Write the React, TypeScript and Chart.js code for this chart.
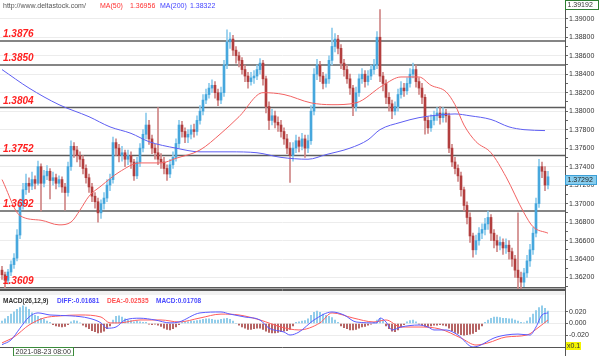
import React, { useEffect, useRef } from 'react';
import { Chart, registerables } from 'chart.js';

Chart.register(...registerables);

const FONT = '"Liberation Sans", Arial, sans-serif';

// ---------- data ----------
const firstOpen = 1.3628;
const closes = [
  1.3623, 1.3617, 1.3626, 1.3634, 1.3641, 1.3666, 1.3698, 1.3715, 1.3722, 1.3719, 1.3726, 1.3722,
  1.3740, 1.3722, 1.3730, 1.3735, 1.3725, 1.3728, 1.3722, 1.3726, 1.3718, 1.3712, 1.3740, 1.3762, 1.3758,
  1.3752, 1.3748, 1.3738, 1.3728, 1.3718, 1.3708, 1.3702, 1.3690, 1.3700, 1.3706, 1.3720, 1.3726,
  1.3766, 1.3760, 1.3752, 1.3755, 1.3748, 1.3752, 1.3745, 1.3730, 1.3745, 1.3760, 1.3775, 1.3785, 1.3770, 1.3760, 1.3755, 1.3748, 1.3745, 1.3738, 1.3732, 1.3742, 1.3750,
  1.3765, 1.3785, 1.3778, 1.3772, 1.3775, 1.3780, 1.3778, 1.3790, 1.3800, 1.3812,
  1.3818, 1.3825, 1.3828, 1.3820, 1.3812, 1.3820, 1.3850, 1.3875, 1.3878,
  1.3866, 1.3860, 1.3855, 1.3845, 1.3838, 1.3832, 1.3836, 1.3838, 1.3845, 1.3852, 1.3835,
  1.3805, 1.3790, 1.3795, 1.3788, 1.3785, 1.3778, 1.3770, 1.3760, 1.3752, 1.3760, 1.3768, 1.3762, 1.3770, 1.3760, 1.3768,
  1.3800, 1.3840, 1.3850, 1.3838, 1.3830, 1.3835, 1.3855, 1.3870, 1.3878,
  1.3868, 1.3852, 1.3845, 1.3835, 1.3825, 1.3805, 1.3820, 1.3835, 1.3840, 1.3832, 1.3838, 1.3845, 1.3850, 1.3880, 1.3838,
  1.3830, 1.3815, 1.3808, 1.3800, 1.3805, 1.3818, 1.3825, 1.3822, 1.3830, 1.3840, 1.3845, 1.3832, 1.3825, 1.3815, 1.3790, 1.3782, 1.3790, 1.3795, 1.3798, 1.3793, 1.3798, 1.3795,
  1.3760, 1.3745, 1.3738, 1.3730, 1.3715, 1.3698, 1.3685, 1.3665, 1.3650, 1.3660, 1.3668, 1.3672, 1.3678, 1.3685, 1.3668,
  1.3660, 1.3655, 1.3658, 1.3652, 1.3655, 1.3648, 1.3640, 1.3628, 1.3620, 1.3615,
  1.3625, 1.3638, 1.3650, 1.3668, 1.3700, 1.3740, 1.3735, 1.3720, 1.3729,
];
const highs = [
  1.3632, 1.3626, 1.3629, 1.3638, 1.3646, 1.3672, 1.3705, 1.3722, 1.3732, 1.3728, 1.3734, 1.3730,
  1.3746, 1.3743, 1.3736, 1.3741, 1.3738, 1.3734, 1.3732, 1.3730, 1.3729, 1.3722, 1.3745, 1.3768, 1.3766,
  1.3762, 1.3756, 1.3752, 1.3742, 1.3732, 1.3722, 1.3712, 1.3706, 1.3704, 1.3712, 1.3726, 1.3732,
  1.3772, 1.3770, 1.3764, 1.3762, 1.3758, 1.3758, 1.3756, 1.3748, 1.3750, 1.3765, 1.3780, 1.3798, 1.3790, 1.3774, 1.3764, 1.3804, 1.3754, 1.3750, 1.3742, 1.3748, 1.3756,
  1.3770, 1.3790, 1.3789, 1.3782, 1.3780, 1.3785, 1.3786, 1.3795, 1.3806, 1.3818,
  1.3824, 1.3830, 1.3834, 1.3832, 1.3824, 1.3826, 1.3855, 1.3888, 1.3885,
  1.3882, 1.3870, 1.3864, 1.3858, 1.3850, 1.3842, 1.3842, 1.3844, 1.3850, 1.3857, 1.3855,
  1.3838, 1.3810, 1.3802, 1.3800, 1.3794, 1.3790, 1.3782, 1.3775, 1.3766, 1.3766, 1.3774, 1.3772, 1.3776, 1.3774, 1.3774,
  1.3806, 1.3846, 1.3856, 1.3854, 1.3842, 1.3840, 1.3860, 1.3890, 1.3884,
  1.3882, 1.3872, 1.3856, 1.3850, 1.3840, 1.3828, 1.3826, 1.3840, 1.3846, 1.3844, 1.3844, 1.3850, 1.3856, 1.3886, 1.3910,
  1.3842, 1.3834, 1.3820, 1.3812, 1.3810, 1.3824, 1.3832, 1.3830, 1.3836, 1.3846, 1.3852, 1.3850, 1.3836, 1.3830, 1.3818, 1.3794, 1.3796, 1.3800, 1.3804, 1.3805, 1.3804, 1.3802,
  1.3798, 1.3764, 1.3750, 1.3742, 1.3734, 1.3718, 1.3702, 1.3690, 1.3668, 1.3666, 1.3674, 1.3678, 1.3684, 1.3692, 1.3688,
  1.3672, 1.3666, 1.3664, 1.3662, 1.3662, 1.3660, 1.3652, 1.3644, 1.3690, 1.3626,
  1.3630, 1.3644, 1.3656, 1.3674, 1.3706, 1.3748, 1.3745, 1.3740, 1.3735,
];
const lows = [
  1.3618, 1.3609, 1.3613, 1.3622, 1.3630, 1.3638, 1.3662, 1.3694, 1.3710, 1.3712, 1.3715, 1.3716,
  1.3720, 1.3692, 1.3718, 1.3726, 1.3705, 1.3720, 1.3716, 1.3718, 1.3712, 1.3693, 1.3708, 1.3736, 1.3750,
  1.3745, 1.3740, 1.3732, 1.3722, 1.3712, 1.3702, 1.3695, 1.3680, 1.3684, 1.3694, 1.3702, 1.3714,
  1.3722, 1.3752, 1.3745, 1.3746, 1.3740, 1.3742, 1.3738, 1.3725, 1.3727, 1.3740, 1.3756, 1.3770, 1.3764, 1.3754, 1.3748, 1.3742, 1.3738, 1.3732, 1.3725, 1.3728, 1.3738,
  1.3746, 1.3760, 1.3772, 1.3766, 1.3766, 1.3770, 1.3772, 1.3774, 1.3786, 1.3796,
  1.3808, 1.3814, 1.3820, 1.3814, 1.3806, 1.3808, 1.3816, 1.3846, 1.3868,
  1.3860, 1.3852, 1.3848, 1.3840, 1.3832, 1.3825, 1.3828, 1.3830, 1.3834, 1.3840, 1.3828,
  1.3798, 1.3780, 1.3785, 1.3782, 1.3778, 1.3772, 1.3764, 1.3754, 1.3723, 1.3746, 1.3755, 1.3756, 1.3758, 1.3750, 1.3755,
  1.3764, 1.3796, 1.3834, 1.3832, 1.3824, 1.3826, 1.3830, 1.3850, 1.3864,
  1.3862, 1.3846, 1.3838, 1.3830, 1.3818, 1.3795, 1.3800, 1.3816, 1.3830, 1.3826, 1.3828, 1.3834, 1.3840, 1.3846, 1.3832,
  1.3822, 1.3808, 1.3800, 1.3792, 1.3796, 1.3800, 1.3814, 1.3816, 1.3818, 1.3826, 1.3836, 1.3826, 1.3818, 1.3808, 1.3775, 1.3776, 1.3778, 1.3785, 1.3790, 1.3786, 1.3788, 1.3788,
  1.3755, 1.3740, 1.3732, 1.3724, 1.3708, 1.3692, 1.3678, 1.3658, 1.3642, 1.3645, 1.3655, 1.3662, 1.3666, 1.3672, 1.3660,
  1.3652, 1.3648, 1.3650, 1.3645, 1.3646, 1.3640, 1.3632, 1.3620, 1.3608, 1.3606,
  1.3610, 1.3620, 1.3632, 1.3645, 1.3664, 1.3696, 1.3728, 1.3714, 1.3716,
];
// [candle index, value]
const ma50 = [
  [0, 1.3726], [6, 1.3687], [13, 1.3682], [19, 1.3677], [23, 1.3680], [26, 1.3693], [29, 1.3708], [33, 1.3719],
  [39, 1.3734], [46, 1.3744], [53, 1.3744], [58, 1.3749], [66, 1.3758], [73, 1.3776], [79, 1.3794], [87, 1.3820],
  [94, 1.3818], [103, 1.3809], [110, 1.3807], [118, 1.3809], [127, 1.3828], [133, 1.3837], [139, 1.3837],
  [143, 1.3828], [148, 1.3821], [151, 1.3807], [154, 1.3785], [158, 1.3767], [163, 1.3755], [168, 1.3729],
  [174, 1.3690], [177, 1.3675], [182, 1.3668],
];
const ma200 = [
  [0, 1.3845], [9, 1.3825], [19, 1.3807], [29, 1.3794], [36, 1.3783], [43, 1.3776], [49, 1.3767], [58, 1.3760],
  [66, 1.3756], [76, 1.3756], [85, 1.3755], [93, 1.3750], [102, 1.3748], [108, 1.3753], [116, 1.3760],
  [122, 1.3769], [126, 1.3780], [133, 1.3788], [139, 1.3793], [146, 1.3796], [151, 1.3797], [156, 1.3795],
  [163, 1.3791], [169, 1.3783], [174, 1.3780], [181, 1.3779],
];
const levels = [1.3876, 1.3850, 1.3804, 1.3752, 1.3692, 1.3609];
const macdHist = [
  0.004, 0.008, 0.012, 0.016, 0.020, 0.024, 0.027, 0.030, 0.028, 0.024,
  0.018, 0.014, 0.012, 0.009, 0.007, 0.004, 0.002, -0.002, -0.004, -0.005,
  -0.006, -0.005, -0.002, 0.003, 0.005, 0.004, 0.001, -0.003, -0.006, -0.009,
  -0.012, -0.014, -0.016, -0.015, -0.013, -0.009, -0.004, 0.006, 0.012, 0.013,
  0.011, 0.008, 0.006, 0.005, 0.003, 0.004, 0.003, 0.002, 0.002, -0.001,
  -0.002, -0.001, -0.003, -0.005, -0.008, -0.010, -0.011, -0.009, -0.006, -0.002,
  0.002, 0.003, 0.003, 0.004, 0.004, 0.005, 0.006, 0.007, 0.008, 0.008,
  0.007, 0.006, 0.006, 0.007, 0.008, 0.009, 0.007, 0.004, 0.000, -0.003,
  -0.006, -0.008, -0.010, -0.010, -0.009, -0.008, -0.008, -0.010, -0.013, -0.015,
  -0.016, -0.016, -0.015, -0.014, -0.013, -0.012, -0.010, -0.004, 0.002, 0.003,
  0.004, 0.005, 0.008, 0.014, 0.019, 0.021, 0.019, 0.016, 0.014, 0.012,
  0.010, 0.006, 0.002, -0.004, -0.007, -0.009, -0.011, -0.011, -0.010, -0.008,
  -0.006, -0.005, -0.003, -0.001, 0.002, 0.006, 0.009, 0.004, -0.004, -0.009,
  -0.013, -0.014, -0.011, -0.006, -0.002, 0.003, 0.005, 0.006, 0.003, -0.001,
  -0.003, -0.005, -0.005, -0.004, -0.003, -0.003, -0.002, -0.003, -0.004, -0.008,
  -0.012, -0.015, -0.017, -0.019, -0.020, -0.019, -0.018, -0.017, -0.014, -0.010,
  -0.004, 0.002, 0.006, 0.009, 0.011, 0.011, 0.010, 0.009, 0.009, 0.008,
  0.008, 0.006, 0.004, 0.002, 0.001, 0.004, 0.010, 0.016, 0.022, 0.027,
  0.030, 0.026, 0.021,
];
const diffLine = [
  [0, -0.036], [3, -0.028], [6, -0.008], [9, 0.011], [12, 0.018], [16, 0.0145], [23, 0.013], [29, 0.009],
  [33, 0.001], [35, -0.008], [38, -0.006], [41, 0.006], [46, 0.009], [51, 0.006], [56, 0.001], [59, 0.0026],
  [66, 0.018], [73, 0.0196], [76, 0.016], [81, 0.011], [86, 0.006], [89, -0.008], [94, -0.0145], [96, -0.0196],
  [99, -0.0145], [104, 0.006], [110, 0.0196], [114, 0.0145], [118, 0.0026], [125, 0.001], [126, 0.0094],
  [128, 0.0026], [130, -0.011], [133, -0.006], [139, -0.0026], [142, -0.006], [144, -0.011], [148, -0.011],
  [152, -0.0196], [157, -0.040], [159, -0.038], [164, -0.0247], [168, -0.0196], [172, -0.018], [176, -0.0196],
  [178, -0.006], [180, 0.0145], [182, 0.018],
];
const deaLine = [
  [0, -0.033], [4, -0.023], [9, -0.0026], [14, 0.0094], [19, 0.0128], [26, 0.0145], [33, 0.011], [36, 0.001],
  [39, 0.001], [46, 0.006], [53, 0.006], [59, 0.0026], [66, 0.0094], [73, 0.016], [79, 0.0145], [86, 0.006],
  [93, -0.006], [99, -0.011], [106, 0.001], [110, 0.018], [117, 0.0094], [124, 0.0026], [128, 0.006],
  [133, -0.006], [139, -0.006], [146, -0.0094], [153, -0.0247], [158, -0.0366], [162, -0.033], [168, -0.023],
  [175, -0.0196], [179, -0.006], [182, 0.006],
];
const priceMin = 1.36076;
const priceMax = 1.39192;
const lastPrice = 1.37292;
const macdMin = -0.04;
const macdMax = 0.0468;
const siteText = 'http://www.deltastock.com/';
const ma50Text = ['MA(50)', '1.36956'];
const ma200Text = ['MA(200)', '1.38322'];
const macdTitle = 'MACD(26,12,9)';
const diffText = 'DIFF:-0.01681';
const deaText = 'DEA:-0.02535';
const macdText = 'MACD:0.01708';
const scaleText = 'x0.1';
const dateText = '2021-08-23 08:00';

const opens = closes.map((c, i) => (i === 0 ? firstOpen : closes[i - 1]));
const isUp = closes.map((c, i) => c >= opens[i]);

const X_MIN = -0.667;
const X_MAX = 187.667;
const AXIS_W = 35;

function fitAxis(scale: any) {
  scale.width = AXIS_W;
  scale.paddingTop = 0;
  scale.paddingBottom = 0;
}

function text(ctx: CanvasRenderingContext2D, s: string, x: number, y: number, color: string, font: string) {
  ctx.fillStyle = color;
  ctx.font = font;
  ctx.textAlign = 'left';
  ctx.textBaseline = 'middle';
  ctx.fillText(s, x, y);
}

export default function App() {
  const topRef = useRef<HTMLCanvasElement>(null);
  const botRef = useRef<HTMLCanvasElement>(null);

  useEffect(() => {
    document.body.style.margin = '0';
    const idx = closes.map((_, i) => i);

    const topDecor = {
      id: 'topDecor',
      beforeDatasetsDraw(chart: any) {
        const { ctx, chartArea, scales } = chart;
        ctx.save();
        ctx.strokeStyle = '#5c5c5c';
        ctx.lineWidth = 1.5;
        for (const lv of levels) {
          const y = scales.y.getPixelForValue(lv);
          ctx.beginPath();
          ctx.moveTo(chartArea.left, y);
          ctx.lineTo(chartArea.right, y);
          ctx.stroke();
        }
        ctx.restore();
      },
      afterDatasetsDraw(chart: any) {
        const { ctx, scales } = chart;
        ctx.save();
        ctx.fillStyle = '#ff2020';
        ctx.font = `bold italic 10px ${FONT}`;
        ctx.textAlign = 'left';
        ctx.textBaseline = 'alphabetic';
        for (const lv of levels) {
          const y = scales.y.getPixelForValue(lv);
          ctx.fillText(lv.toFixed(4), 3, y - 3.5);
        }
        ctx.restore();
      },
      afterDraw(chart: any) {
        const { ctx, chartArea, scales } = chart;
        ctx.save();
        // bottom border and axis line
        ctx.strokeStyle = '#555';
        ctx.lineWidth = 1;
        ctx.beginPath();
        ctx.moveTo(0, chartArea.bottom + 0.5);
        ctx.lineTo(chartArea.right, chartArea.bottom + 0.5);
        ctx.moveTo(chartArea.right + 0.5, 0);
        ctx.lineTo(chartArea.right + 0.5, chart.height);
        ctx.stroke();
        // header
        const f = `7px ${FONT}`;
        text(ctx, siteText, 3, 6, '#555', f);
        text(ctx, ma50Text[0], 100, 6, '#ff3030', f);
        text(ctx, ma50Text[1], 130, 6, '#ff3030', f);
        text(ctx, ma200Text[0], 160, 6, '#4444ff', f);
        text(ctx, ma200Text[1], 190, 6, '#4444ff', f);
        // top price box
        ctx.fillStyle = '#fff';
        ctx.fillRect(566, 0, 33, 9);
        ctx.strokeStyle = '#2e7d32';
        ctx.strokeRect(565.5, 0.5, 33, 9);
        text(ctx, priceMax.toFixed(5), 567.5, 5, '#333', f);
        // last price box
        const yc = scales.y.getPixelForValue(lastPrice) + 2.5;
        ctx.fillStyle = '#87cdee';
        ctx.fillRect(565.5, Math.round(yc - 4.5) + 0.5, 31, 9);
        ctx.strokeStyle = '#3c9fd6';
        ctx.strokeRect(565.5, Math.round(yc - 4.5) + 0.5, 31, 9);
        text(ctx, lastPrice.toFixed(5), 567.5, Math.round(yc - 4.5) + 5, '#222', f);
        ctx.restore();
      },
    };

    const top = new Chart(topRef.current as HTMLCanvasElement, {
      type: 'bar',
      data: {
        datasets: [
          {
            type: 'line',
            data: ma50.map(([x, y]) => ({ x, y })),
            borderColor: '#f26262',
            borderWidth: 1,
            pointRadius: 0,
            cubicInterpolationMode: 'monotone',
            order: 1,
          } as any,
          {
            type: 'line',
            data: ma200.map(([x, y]) => ({ x, y })),
            borderColor: '#5e5ef2',
            borderWidth: 1,
            pointRadius: 0,
            cubicInterpolationMode: 'monotone',
            order: 1,
          } as any,
          {
            type: 'bar',
            data: idx.map((i) => ({ x: i, y: [lows[i], highs[i]] })),
            backgroundColor: idx.map((i) => (isUp[i] ? '#8ccbec' : '#cf8686')),
            barThickness: 1,
            grouped: false,
            order: 3,
          } as any,
          {
            type: 'bar',
            data: idx.map((i) => ({ x: i, y: [opens[i], closes[i]] })),
            backgroundColor: idx.map((i) => (isUp[i] ? '#46a7dd' : '#b23e3e')),
            barThickness: 2,
            grouped: false,
            order: 2,
          } as any,
        ],
      },
      options: {
        responsive: false,
        animation: false,
        events: [],
        layout: { padding: { top: 1, bottom: 1, left: 0, right: 0 } },
        plugins: { legend: { display: false }, tooltip: { enabled: false } },
        scales: {
          x: { type: 'linear', min: X_MIN, max: X_MAX, offset: false, display: false },
          y: {
            type: 'linear',
            position: 'right',
            min: priceMin,
            max: priceMax,
            afterFit: fitAxis,
            border: { display: true, color: '#555' },
            grid: {
              color: (c: any) => (Math.round(c.tick.value * 1000) % 2 === 0 ? '#ececec' : 'rgba(0,0,0,0)'),
              tickColor: '#666',
              tickLength: 3,
            },
            ticks: {
              stepSize: 0.001,
              includeBounds: false,
              autoSkip: false,
              padding: 1,
              color: '#333',
              font: { family: FONT, size: 7 },
              callback: (v: any) => (Math.round(Number(v) * 1000) % 2 === 0 ? Number(v).toFixed(5) : ''),
            },
          },
        },
      } as any,
      plugins: [topDecor],
    });

    const botDecor = {
      id: 'botDecor',
      beforeDraw(chart: any) {
        const { ctx } = chart;
        ctx.save();
        ctx.fillStyle = '#f1f1f1';
        ctx.fillRect(0, 0, 565, 5);
        ctx.restore();
      },
      afterDraw(chart: any) {
        const { ctx, chartArea } = chart;
        ctx.save();
        ctx.strokeStyle = '#555';
        ctx.lineWidth = 1;
        ctx.beginPath();
        ctx.moveTo(0, 0.5);
        ctx.lineTo(chartArea.right, 0.5);
        ctx.moveTo(0, chartArea.bottom + 0.5);
        ctx.lineTo(chartArea.right, chartArea.bottom + 0.5);
        ctx.moveTo(chartArea.right + 0.5, 0);
        ctx.lineTo(chartArea.right + 0.5, chart.height);
        ctx.stroke();
        const f = `6.5px ${FONT}`;
        text(ctx, macdTitle, 3, 11.5, '#333', `bold ${f}`);
        text(ctx, diffText, 57, 11.5, '#4a4aff', `bold ${f}`);
        text(ctx, deaText, 107, 11.5, '#ff5050', `bold ${f}`);
        text(ctx, macdText, 156, 11.5, '#4a4aff', `bold ${f}`);
        // scale box
        ctx.fillStyle = '#f4f400';
        ctx.fillRect(566, 52, 15, 8);
        text(ctx, scaleText, 567, 56, '#333', `7px ${FONT}`);
        // date box
        ctx.fillStyle = '#fff';
        ctx.fillRect(13.5, chartArea.bottom + 0.5, 60, 8.5);
        ctx.strokeStyle = '#3a8a3a';
        ctx.strokeRect(13.5, chartArea.bottom + 0.5, 60, 8.5);
        text(ctx, dateText, 15.5, chartArea.bottom + 5, '#333', `7px ${FONT}`);
        ctx.restore();
      },
    };

    const bot = new Chart(botRef.current as HTMLCanvasElement, {
      type: 'bar',
      data: {
        datasets: [
          {
            type: 'line',
            data: diffLine.map(([x, y]) => ({ x, y })),
            borderColor: '#5a5aff',
            borderWidth: 1,
            pointRadius: 0,
            cubicInterpolationMode: 'monotone',
            order: 1,
          } as any,
          {
            type: 'line',
            data: deaLine.map(([x, y]) => ({ x, y })),
            borderColor: '#ff5c5c',
            borderWidth: 1,
            pointRadius: 0,
            cubicInterpolationMode: 'monotone',
            order: 1,
          } as any,
          {
            type: 'bar',
            data: idx.map((i) => ({ x: i, y: macdHist[i] })),
            backgroundColor: idx.map((i) => (macdHist[i] >= 0 ? '#7cc3e6' : '#a84646')),
            barThickness: 1,
            grouped: false,
            order: 2,
          } as any,
        ],
      },
      options: {
        responsive: false,
        animation: false,
        events: [],
        layout: { padding: { top: 6, bottom: 9, left: 0, right: 0 } },
        plugins: { legend: { display: false }, tooltip: { enabled: false } },
        scales: {
          x: { type: 'linear', min: X_MIN, max: X_MAX, offset: false, display: false },
          y: {
            type: 'linear',
            position: 'right',
            min: macdMin,
            max: macdMax,
            afterFit: fitAxis,
            border: { display: true, color: '#555' },
            grid: {
              color: (c: any) => (Math.abs(c.tick.value) < 0.021 ? '#ececec' : 'rgba(0,0,0,0)'),
              tickColor: (c: any) => (Math.abs(c.tick.value) < 0.021 ? '#666' : 'rgba(0,0,0,0)'),
              tickLength: 3,
            },
            ticks: {
              stepSize: 0.02,
              includeBounds: false,
              autoSkip: false,
              padding: 1,
              color: '#333',
              font: { family: FONT, size: 7 },
              callback: (v: any) => (Math.abs(Number(v)) < 0.021 ? Number(v).toFixed(3) : ''),
            },
          },
        },
      } as any,
      plugins: [botDecor],
    });

    return () => {
      top.destroy();
      bot.destroy();
    };
  }, []);

  return (
    <div style={{ position: 'relative', width: 600, height: 356, background: '#fff', overflow: 'hidden' }}>
      <canvas ref={topRef} width={600} height={290} style={{ position: 'absolute', left: 0, top: 0 }} />
      <canvas ref={botRef} width={600} height={66} style={{ position: 'absolute', left: 0, top: 290 }} />
    </div>
  );
}
